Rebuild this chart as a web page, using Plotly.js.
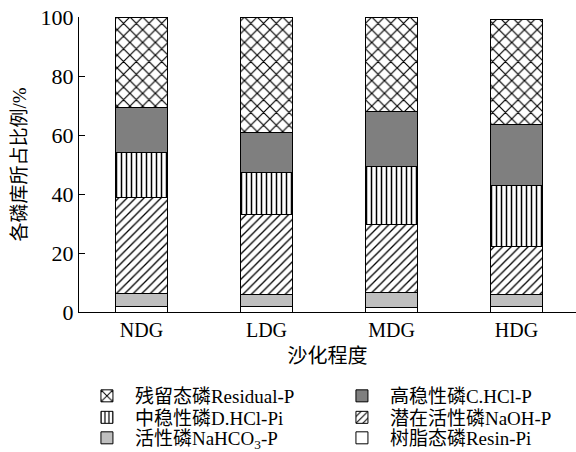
<!DOCTYPE html>
<html>
<head>
<meta charset="utf-8">
<script src="https://cdn.plot.ly/plotly-3.0.1.min.js"></script>
<style>html,body{margin:0;padding:0;background:#fff;}</style>
</head>
<body>
<div id="chart" style="width:576px;height:452px;"></div>
<script>
const categories = ["NDG", "LDG", "MDG", "HDG"];
const resinPi   = [1.7, 1.7, 1.5, 1.7];
const nahco3P   = [4.5, 4.1, 5.1, 4.3];
const naohP     = [32.7, 27.3, 22.9, 16.1];
const dhclPi    = [15.3, 14.3, 19.8, 20.7];
const chclP     = [15.0, 13.6, 18.7, 20.7];
const residualP = [30.8, 39.0, 31.9, 35.8];
const seriesNames = ["树脂态磷Resin-Pi", "活性磷NaHCO<sub>3</sub>-P", "潜在活性磷NaOH-P",
                     "中稳性磷D.HCl-Pi", "高稳性磷C.HCl-P", "残留态磷Residual-P"];
const legendRows = ["legend3", "legend3", "legend2", "legend2", "legend", "legend"];

const FONT = "Liberation Serif, 'Times New Roman', 'Noto Sans CJK SC', serif";
const styles = [
  {color: "#ffffff", pattern: {shape: ""}},
  {color: "#bfbfbf", pattern: {shape: ""}},
  {color: "#ffffff", pattern: {shape: "/", fgcolor: "#000", bgcolor: "#fff", size: 6, solidity: 0.22}},
  {color: "#ffffff", pattern: {shape: "|", fgcolor: "#000", bgcolor: "#fff", size: 5, solidity: 0.3}},
  {color: "#7f7f7f", pattern: {shape: ""}},
  {color: "#ffffff", pattern: {shape: "x", fgcolor: "#000", bgcolor: "#fff", size: 9, solidity: 0.25}}
];
const values = [resinPi, nahco3P, naohP, dhclPi, chclP, residualP];

const traces = values.map((v, i) => ({
  type: "bar",
  x: categories,
  y: v,
  name: seriesNames[i],
  legend: legendRows[i],
  width: 0.42,
  marker: {
    color: styles[i].color,
    pattern: styles[i].pattern,
    line: {color: "#000", width: 1}
  },
  hoverinfo: "skip"
}));

function legendRow(yCenter) {
  return {
    orientation: "h", traceorder: "reversed",
    x: -0.0001, y: yCenter, xanchor: "left", yanchor: "middle",
    entrywidth: 194, entrywidthmode: "pixels",
    itemwidth: 46,
    font: {family: FONT, size: 19, color: "#000"},
    bgcolor: "rgba(0,0,0,0)"
  };
}

const layout = {
  width: 576, height: 452,
  margin: {l: 79, r: 0, t: 17, b: 140, autoexpand: false},
  barmode: "stack",
  paper_bgcolor: "#fff", plot_bgcolor: "#fff",
  font: {family: FONT, color: "#000", size: 18},
  showlegend: true,
  legend: legendRow(-0.2847),
  legend2: legendRow(-0.3576),
  legend3: legendRow(-0.427),
  xaxis: {
    range: [-0.5, 3.476],
    showline: true, linecolor: "#000", linewidth: 1.2,
    ticks: "", showgrid: false, zeroline: false,
    tickfont: {family: FONT, size: 20},
    title: {text: "沙化程度", font: {family: FONT, size: 20}, standoff: 8}
  },
  yaxis: {
    range: [0, 100],
    tickvals: [0, 20, 40, 60, 80, 100],
    showline: true, linecolor: "#000", linewidth: 1.2,
    ticks: "inside", ticklen: 6, tickcolor: "#000",
    showgrid: false, zeroline: false,
    tickfont: {family: FONT, size: 22},
    title: {text: "各磷库所占比例/%", font: {family: FONT, size: 19}, standoff: 8}
  }
};

Plotly.newPlot("chart", traces, layout, {staticPlot: true, displayModeBar: false});
</script>
</body>
</html>
